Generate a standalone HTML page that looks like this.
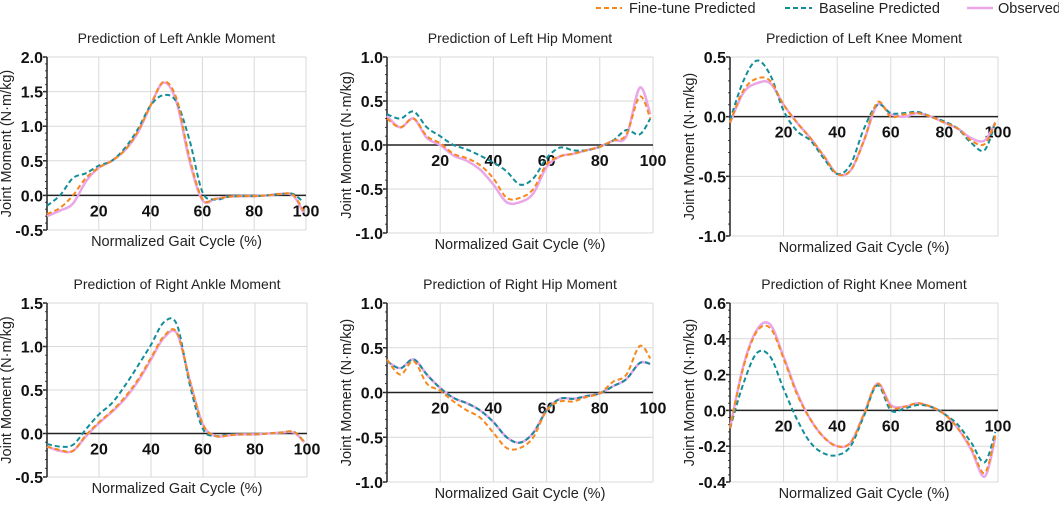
<!DOCTYPE html>
<html><head><meta charset="utf-8">
<style>
body{margin:0;background:#fff;width:1059px;height:503px;overflow:hidden;font-family:"Liberation Sans",Arial,sans-serif}
svg text{font-family:"Liberation Sans",Arial,sans-serif}
</style></head>
<body>
<svg id="chart" width="1059" height="503" xmlns="http://www.w3.org/2000/svg">
<g>
  <g>
    <line x1="596" y1="8" x2="622" y2="8" stroke="#f7881c" stroke-width="2" stroke-dasharray="5,3"/>
    <text x="629" y="13" font-size="14.5" fill="#222">Fine-tune Predicted</text>
  </g>
  <g>
    <line x1="785" y1="8" x2="812" y2="8" stroke="#138e99" stroke-width="2" stroke-dasharray="5,3"/>
    <text x="819" y="13" font-size="14.5" fill="#222">Baseline Predicted</text>
  </g>
  <g>
    <line x1="967" y1="8" x2="993" y2="8" stroke="#eaa6e8" stroke-width="2.5"/>
    <text x="998" y="13" font-size="14.5" fill="#222">Observed</text>
  </g>
</g>
</svg>
<script>
const xs = [0,5,10,15,20,25,30,35,40,45,50,55,60,65,70,75,80,85,90,95,99];
const xTicks = [20,40,60,80,100];
const titles = ["Prediction of Left Ankle Moment","Prediction of Left Hip Moment","Prediction of Left Knee Moment","Prediction of Right Ankle Moment","Prediction of Right Hip Moment","Prediction of Right Knee Moment"];
const yTicks1 = [-0.5,0,0.5,1.0,1.5,2.0];
const yTicks2 = [-1.0,-0.5,0,0.5,1.0];
const yTicks3 = [-1.0,-0.5,0,0.5];
const yTicks4 = [-0.5,0,0.5,1.0,1.5];
const yTicks5 = [-1.0,-0.5,0,0.5,1.0];
const yTicks6 = [-0.4,-0.2,0,0.2,0.4,0.6];
const obs1 = [-0.3,-0.22,-0.12,0.2,0.4,0.5,0.65,0.9,1.3,1.63,1.35,0.5,-0.07,-0.05,-0.02,-0.01,-0.01,0,0.02,0.0,-0.25];
const ft1  = [-0.27,-0.18,0.0,0.25,0.4,0.5,0.65,0.92,1.3,1.64,1.4,0.55,-0.05,-0.05,-0.02,-0.01,-0.01,0,0.02,0.01,-0.22];
const bl1  = [-0.15,0.0,0.25,0.32,0.43,0.5,0.68,0.95,1.3,1.45,1.35,0.8,0.05,-0.06,-0.02,-0.01,-0.01,0,0.02,0.02,-0.1];
const obs2 = [0.33,0.2,0.3,0.08,0.0,-0.12,-0.18,-0.28,-0.45,-0.65,-0.65,-0.55,-0.25,-0.13,-0.1,-0.06,-0.02,0.05,0.1,0.65,0.35];
const ft2  = [0.3,0.2,0.3,0.1,0.02,-0.1,-0.15,-0.23,-0.38,-0.6,-0.6,-0.5,-0.22,-0.13,-0.1,-0.06,-0.02,0.05,0.12,0.55,0.3];
const bl2  = [0.35,0.3,0.38,0.2,0.1,0.0,-0.05,-0.12,-0.2,-0.3,-0.45,-0.38,-0.15,-0.03,-0.06,-0.06,-0.02,0.05,0.17,0.12,0.3];
const obs3 = [-0.05,0.2,0.28,0.28,0.1,-0.05,-0.18,-0.33,-0.48,-0.45,-0.2,0.1,0.02,0.0,0.03,0.0,-0.05,-0.1,-0.18,-0.2,-0.05];
const ft3  = [-0.05,0.22,0.32,0.3,0.1,-0.05,-0.18,-0.33,-0.48,-0.45,-0.2,0.12,0.0,0.02,0.03,0.0,-0.05,-0.1,-0.2,-0.23,-0.05];
const bl3  = [-0.03,0.3,0.47,0.35,0.05,-0.12,-0.2,-0.35,-0.48,-0.4,-0.1,0.1,0.03,0.03,0.04,0.0,-0.04,-0.1,-0.22,-0.28,-0.05];
const obs4 = [-0.15,-0.2,-0.2,-0.03,0.12,0.25,0.4,0.6,0.85,1.1,1.15,0.6,0.1,-0.03,-0.02,-0.01,-0.01,0,0.01,0.01,-0.1];
const ft4  = [-0.15,-0.19,-0.2,-0.02,0.13,0.26,0.42,0.62,0.87,1.12,1.16,0.6,0.1,-0.03,-0.02,-0.01,-0.01,0,0.01,0.02,-0.1];
const bl4  = [-0.12,-0.15,-0.13,0.05,0.22,0.35,0.55,0.78,1.02,1.28,1.25,0.55,0.05,-0.03,-0.01,-0.01,-0.01,0,0.01,0.02,-0.1];
const obs5 = [0.35,0.27,0.37,0.2,0.05,-0.06,-0.12,-0.2,-0.33,-0.5,-0.56,-0.45,-0.2,-0.07,-0.07,-0.04,-0.01,0.07,0.15,0.33,0.32];
const ft5  = [0.37,0.2,0.35,0.1,0.02,-0.1,-0.2,-0.28,-0.45,-0.62,-0.62,-0.5,-0.2,-0.1,-0.1,-0.05,-0.01,0.12,0.2,0.52,0.38];
const bl5  = [0.35,0.27,0.37,0.2,0.05,-0.06,-0.12,-0.2,-0.33,-0.5,-0.56,-0.45,-0.2,-0.07,-0.07,-0.04,-0.01,0.07,0.15,0.33,0.32];
const obs6 = [-0.1,0.25,0.45,0.48,0.3,0.1,-0.05,-0.15,-0.2,-0.18,-0.02,0.15,0.03,0.02,0.04,0.02,-0.02,-0.1,-0.22,-0.37,-0.15];
const ft6  = [-0.1,0.24,0.44,0.46,0.29,0.09,-0.05,-0.15,-0.2,-0.18,-0.02,0.15,0.02,0.02,0.04,0.02,-0.02,-0.1,-0.21,-0.35,-0.14];
const bl6  = [-0.1,0.15,0.32,0.3,0.12,-0.05,-0.18,-0.24,-0.25,-0.2,-0.03,0.14,0.0,0.01,0.03,0.02,-0.02,-0.08,-0.18,-0.29,-0.12];

const panels = [
 {x0:47,x1:306,y0:57,y1:230,ticks:yTicks1,obs:obs1,ft:ft1,bl:bl1},
 {x0:387,x1:653,y0:57,y1:233,ticks:yTicks2,obs:obs2,ft:ft2,bl:bl2},
 {x0:730,x1:998,y0:57,y1:236,ticks:yTicks3,obs:obs3,ft:ft3,bl:bl3},
 {x0:47,x1:307,y0:303,y1:477,ticks:yTicks4,obs:obs4,ft:ft4,bl:bl4},
 {x0:387,x1:653,y0:303,y1:482,ticks:yTicks5,obs:obs5,ft:ft5,bl:bl5},
 {x0:730,x1:998,y0:303,y1:482,ticks:yTicks6,obs:obs6,ft:ft6,bl:bl6}
];
const NS="http://www.w3.org/2000/svg";
const svg=document.getElementById('chart');
function mk(tag,attrs,parent){const e=document.createElementNS(NS,tag);for(const k in attrs)e.setAttribute(k,attrs[k]);parent.appendChild(e);return e;}
function smooth(pts){let d="M"+pts[0][0]+","+pts[0][1];for(let i=0;i<pts.length-1;i++){const p0=pts[Math.max(0,i-1)],p1=pts[i],p2=pts[i+1],p3=pts[Math.min(pts.length-1,i+2)];const c1x=p1[0]+(p2[0]-p0[0])/6,c1y=p1[1]+(p2[1]-p0[1])/6,c2x=p2[0]-(p3[0]-p1[0])/6,c2y=p2[1]-(p3[1]-p1[1])/6;d+=" C"+c1x.toFixed(1)+","+c1y.toFixed(1)+" "+c2x.toFixed(1)+","+c2y.toFixed(1)+" "+p2[0].toFixed(1)+","+p2[1].toFixed(1);}return d;}
panels.forEach((p,i)=>{
  const g=mk('g',{},svg);
  
  
  const ymin=p.ticks[0],ymax=p.ticks[p.ticks.length-1];
  const sx=v=>p.x0+(v/100)*(p.x1-p.x0);
  const sy=v=>p.y1-(v-ymin)/(ymax-ymin)*(p.y1-p.y0);
  const cx=(p.x0+p.x1)/2;
  const t=mk('text',{x:cx,y:p.y0-14,'font-size':14,'text-anchor':'middle',fill:'#222'},g);
  
  
  t.textContent=titles[i];
  xTicks.forEach(v=>{const l=mk('line',{x1:sx(v),x2:sx(v),y1:p.y0,y2:p.y1,stroke:'#d9d9d9','stroke-width':1},g);
    
    });
  p.ticks.forEach(v=>{const l=mk('line',{x1:p.x0,x2:p.x1,y1:sy(v),y2:sy(v),stroke:'#d9d9d9','stroke-width':1},g);
    
    
    const tk=mk('line',{x1:p.x0-4,x2:p.x0,y1:sy(v),y2:sy(v),stroke:'#222','stroke-width':1.5},g);
    
    
    const lb=mk('text',{x:p.x0-4,y:sy(v)+6,'font-size':16,'font-weight':'bold','text-anchor':'end',fill:'#111'},g);
    
    
    lb.textContent=v.toFixed(1);});
  const step=p.ticks[1]-p.ticks[0];
  for(let v=ymin;v<=ymax+1e-9;v+=step/5){const m=mk('line',{x1:p.x0-2,x2:p.x0,y1:sy(v),y2:sy(v),stroke:'#444','stroke-width':1},g);
    
    }
  const ya=mk('line',{x1:p.x0,x2:p.x0,y1:p.y0,y2:p.y1,stroke:'#222','stroke-width':1.5},g);
  
  
  const xa=mk('line',{x1:p.x0,x2:p.x1,y1:sy(0),y2:sy(0),stroke:'#222','stroke-width':1.5},g);
  
  
  xTicks.forEach(v=>{const lb=mk('text',{x:sx(v),y:sy(0)+21,'font-size':16,'font-weight':'bold','text-anchor':'middle',fill:'#111'},g);
    
    
    lb.textContent=v;});
  const xt=mk('text',{x:cx,y:p.y1+16,'font-size':14.5,'text-anchor':'middle',fill:'#222'},g);
  
  
  xt.textContent='Normalized Gait Cycle (%)';
  const ycy=(p.y0+p.y1)/2, ytx=p.x0-36;
  const yt=mk('text',{x:ytx,y:ycy,'font-size':14.5,'text-anchor':'middle',fill:'#222',transform:'rotate(-90 '+ytx+' '+ycy+')'},g);
  
  
  yt.textContent='Joint Moment (N·m/kg)';
  const series=[[p.obs,'#eaa6e8',2.5,'none','observed-line'],[p.bl,'#138e99',2,'5,3','baseline-line'],[p.ft,'#f7881c',2,'5,3','fine-tune-line']];
  series.forEach(s=>{const pts=xs.map((x,j)=>[sx(x),sy(s[0][j])]);
    const path=mk('path',{d:smooth(pts),fill:'none',stroke:s[1],'stroke-width':s[2],'stroke-dasharray':s[3]},g);
    
    });
});
</script>
</body></html>
